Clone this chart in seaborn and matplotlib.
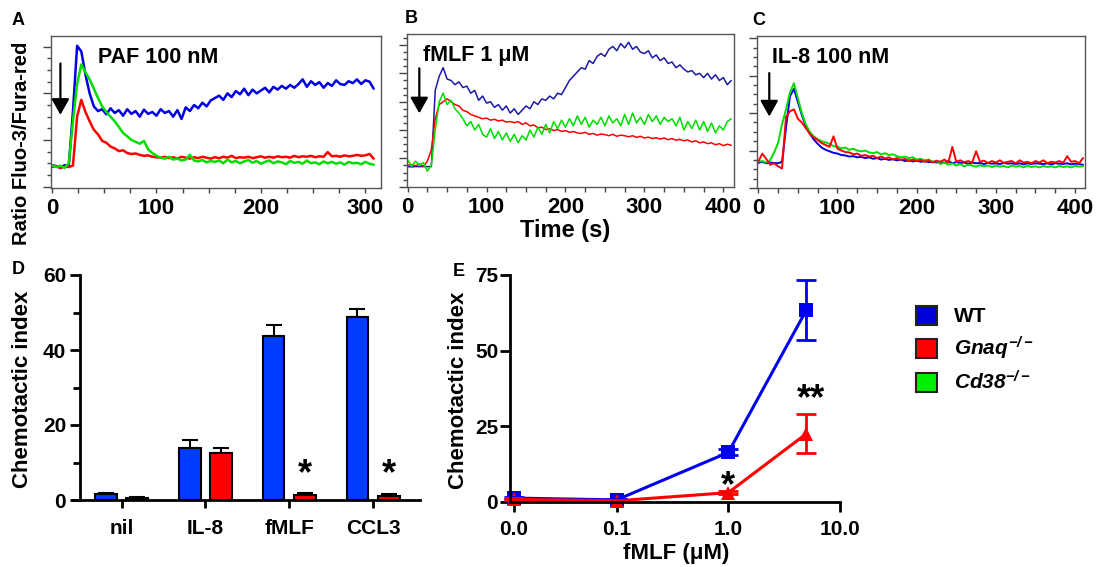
import numpy as np
import pandas as pd
import seaborn as sns
import matplotlib
matplotlib.use('Agg')
import matplotlib.pyplot as plt
from matplotlib.patches import Patch
from matplotlib.ticker import MultipleLocator, NullLocator


# ---- panel A: PAF 100 nM, sampled every 4 s ----
paf_step = 4
paf_wt = [0.46, 0.44, 0.40, 0.46, 0.44,
          1.60, 3.02, 2.90, 2.40, 2.00, 1.72, 1.62,
          1.66, 1.55, 1.68, 1.58, 1.64, 1.52, 1.66, 1.56, 1.62, 1.50, 1.65, 1.56, 1.60,
          1.52, 1.66, 1.58, 1.62, 1.50, 1.64, 1.45, 1.70, 1.62, 1.75, 1.68, 1.80, 1.72,
          1.85, 1.90, 1.95, 1.86, 2.00, 1.92, 2.05, 1.98, 2.10, 1.96, 2.08, 2.00, 2.06,
          2.12, 2.02, 2.14, 2.08, 2.16, 2.10, 2.18, 2.12, 2.20, 2.30, 2.14, 2.26, 2.18,
          2.24, 2.12, 2.22, 2.16, 2.28, 2.20, 2.18, 2.26, 2.22, 2.30, 2.20, 2.28, 2.25, 2.10]
paf_gnaq = [0.42, 0.44, 0.40, 0.43, 0.42, 0.45,
            1.50, 1.86, 1.60, 1.40, 1.22, 1.12, 0.98, 0.94, 0.86, 0.82, 0.76, 0.78, 0.72,
            0.70, 0.71, 0.68, 0.66, 0.67, 0.64, 0.63,
            0.62, 0.64, 0.61, 0.63, 0.60, 0.64, 0.62, 0.60, 0.63, 0.61, 0.64, 0.62, 0.60,
            0.63, 0.61, 0.64, 0.62, 0.66, 0.61, 0.63, 0.62, 0.64, 0.61, 0.63, 0.65, 0.62,
            0.64, 0.62, 0.65, 0.63, 0.64, 0.62, 0.66, 0.63, 0.65, 0.64, 0.66, 0.63, 0.65,
            0.64, 0.74, 0.65, 0.66, 0.64, 0.67, 0.65, 0.66, 0.68, 0.66, 0.67, 0.70, 0.60]
paf_cd38 = [0.46, 0.42, 0.45, 0.40, 0.50,
            1.40, 2.20, 2.62, 2.45, 2.30, 2.10, 1.90, 1.72, 1.60, 1.50, 1.40, 1.28, 1.15,
            1.08, 1.00, 0.96, 0.92, 0.98, 0.80, 0.72, 0.66,
            0.62, 0.60, 0.64, 0.58, 0.60, 0.56, 0.58, 0.68, 0.56, 0.54, 0.57, 0.52, 0.55,
            0.53, 0.56, 0.50, 0.58, 0.52, 0.55, 0.50, 0.54, 0.57, 0.51, 0.55, 0.49, 0.53,
            0.56, 0.50, 0.54, 0.52, 0.48, 0.55, 0.51, 0.53, 0.49, 0.56, 0.50, 0.52, 0.48,
            0.54, 0.50, 0.53, 0.49, 0.52, 0.47, 0.53, 0.50, 0.51, 0.48, 0.53, 0.49, 0.47]

# ---- panel B: fMLF 1 uM, sampled every 5 s ----
fmlf_step = 5
fmlf_wt = [0.71, 0.70, 0.71, 0.71, 0.71, 0.71, 0.71,
           3.40, 3.90, 4.20, 3.80, 3.75, 3.60, 3.70, 3.50, 3.55, 3.30, 3.40, 3.05, 3.20,
           2.95, 3.00, 2.80, 2.90, 2.70, 2.85, 2.60, 2.75, 2.55, 2.70, 2.85, 2.75, 3.00,
           2.90, 3.10, 3.05, 3.20, 3.10, 3.30, 3.25, 3.50, 3.75, 3.90, 4.05, 4.20, 4.15,
           4.45, 4.35, 4.60, 4.70, 4.60, 4.85, 4.95, 4.80, 5.05, 4.90, 5.10, 4.85, 4.95,
           4.75, 4.70, 4.80, 4.55, 4.65, 4.45, 4.55, 4.35, 4.40, 4.20, 4.30, 4.15, 4.05,
           4.10, 3.95, 4.00, 3.85, 4.00, 3.80, 3.95, 3.75, 3.85, 3.60, 3.75]
fmlf_gnaq = [0.76, 0.78, 0.74, 0.80, 0.72, 0.90, 1.30,
             2.40, 2.90, 3.00, 3.10, 3.00, 2.90, 2.85, 2.70, 2.65, 2.55, 2.50, 2.45, 2.40,
             2.42, 2.35, 2.38, 2.32, 2.35, 2.28, 2.30, 2.26, 2.30, 2.20, 2.25, 2.15, 2.18,
             2.08, 2.10, 2.02, 2.05, 1.98, 2.02, 1.95, 1.98, 1.92, 1.95, 1.90, 1.88, 1.92,
             1.85, 1.88, 1.82, 1.86, 1.84, 1.80, 1.85, 1.78, 1.82, 1.80, 1.76, 1.80, 1.74,
             1.78, 1.72, 1.75, 1.70, 1.73, 1.68, 1.72, 1.66, 1.70, 1.64, 1.67, 1.62, 1.65,
             1.58, 1.62, 1.55, 1.58, 1.52, 1.55, 1.48, 1.52, 1.45, 1.50, 1.46]
fmlf_cd38 = [0.95, 0.72, 0.90, 0.76, 0.85, 0.55, 0.75,
             2.00, 3.00, 3.30, 2.90, 3.05, 2.75, 2.60, 2.40, 2.15, 2.30, 2.00, 2.20, 1.85,
             1.75, 2.05, 1.70, 1.95, 1.65, 1.90, 1.60, 1.85, 1.55, 1.80, 1.65, 2.00, 1.75,
             2.10, 1.85, 2.20, 1.90, 2.30, 2.05, 2.35, 2.10, 2.40, 2.15, 2.50, 2.20, 2.45,
             2.10, 2.35, 2.20, 2.45, 2.15, 2.50, 2.25, 2.40, 2.15, 2.55, 2.20, 2.60, 2.25,
             2.45, 2.20, 2.55, 2.30, 2.50, 2.20, 2.45, 2.30, 2.40, 2.15, 2.45, 2.00, 2.30,
             2.05, 2.35, 2.00, 2.30, 1.95, 2.25, 1.90, 2.15, 2.00, 2.30, 2.40]

# ---- panel C: IL-8 100 nM, sampled every 5 s ----
il8_step = 5
il8_wt = [0.67, 0.70, 0.66, 0.68, 0.67, 0.66, 0.70,
          1.60, 2.45, 2.65, 2.30, 1.95, 1.65, 1.45, 1.30, 1.18, 1.08, 1.02, 0.98, 0.94,
          0.92, 0.88, 0.87, 0.84, 0.85, 0.82, 0.83, 0.80, 0.82, 0.78, 0.80, 0.76, 0.78,
          0.75, 0.77, 0.74, 0.76, 0.72, 0.74, 0.71, 0.73, 0.70, 0.72, 0.69, 0.70, 0.68,
          0.70, 0.67, 0.72, 0.66, 0.69, 0.67, 0.68, 0.65, 0.68, 0.66, 0.67, 0.64, 0.67,
          0.65, 0.66, 0.64, 0.67, 0.65, 0.66, 0.64, 0.66, 0.63, 0.66, 0.64, 0.66, 0.65,
          0.64, 0.66, 0.63, 0.66, 0.65, 0.64, 0.66, 0.63, 0.65, 0.64, 0.62]
il8_gnaq = [0.70, 0.92, 0.78, 0.62, 0.66, 0.58, 0.52,
            1.90, 2.05, 2.10, 1.85, 1.75, 1.60, 1.45, 1.35, 1.28, 1.20, 1.15, 1.10, 1.38,
            1.05, 1.00, 0.96, 0.95, 0.90, 0.92, 0.86, 0.88, 0.84, 0.86, 0.80, 0.84, 0.79,
            0.82, 0.76, 0.80, 0.75, 0.78, 0.72, 0.76, 0.72, 0.75, 0.70, 0.74, 0.68, 0.73,
            0.70, 0.76, 0.68, 1.10, 0.70, 0.74, 0.69, 0.72, 0.68, 0.98, 0.70, 0.73, 0.67,
            0.72, 0.68, 0.74, 0.67, 0.70, 0.72, 0.66, 0.74, 0.68, 0.70, 0.66, 0.72, 0.68,
            0.74, 0.66, 0.70, 0.68, 0.72, 0.67, 0.85, 0.70, 0.72, 0.66, 0.80]
il8_cd38 = [0.70, 0.72, 0.68, 0.74, 0.95, 1.20, 1.70,
            2.10, 2.55, 2.80, 2.40, 2.00, 1.70, 1.50, 1.38, 1.30, 1.25, 1.22, 1.18, 1.12,
            1.10, 1.06, 1.08, 1.02, 1.05, 1.00, 0.98, 1.00, 0.95, 0.93, 0.96, 0.90, 0.93,
            0.88, 0.90, 0.85, 0.82, 0.84, 0.80, 0.82, 0.76, 0.78, 0.74, 0.76, 0.70, 0.72,
            0.64, 0.68, 0.62, 0.66, 0.60, 0.64, 0.58, 0.62, 0.60, 0.57, 0.61, 0.58, 0.60,
            0.56, 0.60, 0.57, 0.59, 0.55, 0.60, 0.57, 0.59, 0.55, 0.60, 0.56, 0.58, 0.55,
            0.59, 0.56, 0.58, 0.55, 0.59, 0.56, 0.58, 0.55, 0.59, 0.57, 0.58]

# ---- panel D: chemotaxis bars ----
stimuli = ['nil', 'IL-8', 'fMLF', 'CCL3']
wt_ci = [1.5, 13.8, 43.7, 48.9]
wt_ci_err = [0.5, 2.3, 3.1, 2.1]
gnaq_ci = [0.5, 12.5, 1.4, 1.2]
gnaq_ci_err = [0.2, 1.5, 0.6, 0.5]

# ---- panel E: fMLF dose response ----
doses = [0.012, 0.1, 1.0, 5.0]
dose_ticks = [0.012, 0.1, 1.0, 10.0]
dose_labels = ['0.0', '0.1', '1.0', '10.0']
wt_dose = [1.2, 0.6, 16.3, 63.4]
wt_dose_err = [0.4, 0.3, 1.0, 10.0]
gnaq_dose = [0.8, 0.3, 3.0, 22.5]
gnaq_dose_err = [0.3, 0.2, 0.5, 6.5]

trace_pal = {'WT': '#0000e0', 'Gnaq': '#ff0000', 'Cd38': '#00dd00'}
bar_pal = {'WT': '#003cff', 'Gnaq': '#ff0000'}

sns.set_theme(style='ticks')
plt.rcParams['font.family'] = ['Liberation Sans', 'DejaVu Sans']
plt.rcParams['font.weight'] = 'bold'
plt.rcParams['axes.labelweight'] = 'bold'
plt.rcParams['text.color'] = 'black'
plt.rcParams['axes.labelcolor'] = 'black'
plt.rcParams['xtick.color'] = 'black'
plt.rcParams['ytick.color'] = 'black'
# math text is only used for the italic genotype names in the legend
plt.rcParams['mathtext.fontset'] = 'custom'
plt.rcParams['mathtext.it'] = 'Liberation Sans:italic:bold'
plt.rcParams['mathtext.rm'] = 'Liberation Sans:italic:bold'
plt.rcParams['mathtext.default'] = 'it'

W, H = 1103, 567
fig = plt.figure(figsize=(W / 100, H / 100), dpi=100)


def px_axes(x0, y0, x1, y1):
    return fig.add_axes([x0 / W, 1 - y1 / H, (x1 - x0) / W, (y1 - y0) / H])


def trace_panel(ax, step, traces, order, xlim, ylim, lw, text, text_xy, arrow_x, arrow_y, xmax):
    frames = [pd.DataFrame({'t': np.arange(len(traces[g])) * step,
                            'ratio': traces[g], 'genotype': g}) for g in order]
    df = pd.concat(frames, ignore_index=True)
    sns.lineplot(data=df, x='t', y='ratio', hue='genotype', hue_order=order,
                 palette=trace_pal, estimator=None, lw=lw, legend=False, ax=ax)
    ax.set_xlim(*xlim)
    ax.set_ylim(*ylim)
    ax.set_xlabel('')
    ax.set_ylabel('')
    ax.set_xticks(np.arange(0, xmax + 1, 100))
    ax.xaxis.set_minor_locator(MultipleLocator(25))
    ax.yaxis.set_major_locator(MultipleLocator(1))
    ax.yaxis.set_minor_locator(MultipleLocator(0.25))
    ax.tick_params(axis='y', which='both', labelleft=False, color='#444', width=1)
    ax.tick_params(axis='y', which='major', length=6)
    ax.tick_params(axis='y', which='minor', length=3)
    ax.tick_params(axis='x', which='both', color='#444', width=1, length=3.5,
                   labelsize=16, pad=4)
    for lab in ax.get_xticklabels():
        lab.set_fontweight('bold')
    for s in ax.spines.values():
        s.set_visible(True)
        s.set_color('#555')
        s.set_linewidth(1)
    ax.text(text_xy[0], text_xy[1], text, fontsize=15.5, fontweight='bold', va='baseline')
    ax.annotate('', xy=(arrow_x, arrow_y[1]), xytext=(arrow_x, arrow_y[0]),
                arrowprops=dict(arrowstyle='-|>,head_length=0.8,head_width=0.45',
                                color='black', lw=1.6, mutation_scale=12,
                                shrinkA=0, shrinkB=0))


axA = px_axes(51, 36, 381, 188)
trace_panel(axA, paf_step, {'WT': paf_wt, 'Gnaq': paf_gnaq, 'Cd38': paf_cd38},
            ['WT', 'Gnaq', 'Cd38'], (-1, 315), (-0.03, 3.23), 1.8,
            'PAF 100 nM', (44, 2.65), 8, (2.64, 1.54), 300)

axB = px_axes(407, 34, 734, 187)
trace_panel(axB, fmlf_step, {'WT': fmlf_wt, 'Gnaq': fmlf_gnaq, 'Cd38': fmlf_cd38},
            ['WT', 'Gnaq', 'Cd38'], (-0.8, 413.5), (-0.01, 5.39), 1.1,
            'fMLF 1 \u03bcM', (20, 4.42), 14.8, (4.18, 2.59), 400)
axB.lines[0].set_color('#1a1aa8')

axC = px_axes(757, 36, 1085, 188)
trace_panel(axC, il8_step, {'WT': il8_wt, 'Gnaq': il8_gnaq, 'Cd38': il8_cd38},
            ['WT', 'Cd38', 'Gnaq'], (-1.6, 412.5), (0, 4.06), 1.4,
            'IL-8 100 nM', (17, 3.35), 13.9, (3.07, 1.91), 400)

fig.text(22 / W, 1 - 143 / H, 'Ratio Fluo-3/Fura-red', rotation=90,
         ha='center', va='center', fontsize=14.5, fontweight='bold')
fig.text(565 / W, 1 - 231 / H, 'Time (s)', ha='center', va='center',
         fontsize=17, fontweight='bold')

# ---- D ----
axD = px_axes(73, 275, 420, 500)
dfD = pd.DataFrame({'stim': stimuli * 2,
                    'ci': wt_ci + gnaq_ci,
                    'genotype': ['WT'] * 4 + ['Gnaq'] * 4})
sns.barplot(data=dfD, x='stim', y='ci', hue='genotype', order=stimuli,
            hue_order=['WT', 'Gnaq'], palette=bar_pal, saturation=1, width=0.75,
            gap=0.31, edgecolor='black', linewidth=1.5, errorbar=None, legend=False,
            ax=axD)
bars = sorted(axD.patches, key=lambda p: p.get_x())
errs = [e for pair in zip(wt_ci_err, gnaq_ci_err) for e in pair]
cx = [b.get_x() + b.get_width() / 2 for b in bars]
hy = [b.get_height() for b in bars]
axD.errorbar(cx, hy, yerr=[[0] * len(errs), errs], fmt='none', ecolor='black',
             elinewidth=1.5, capsize=6, capthick=1.5, zorder=1)
for i in (2, 3):
    axD.text(i + 0.1875, 4.2, '*', ha='center', va='baseline', fontsize=26,
             fontweight='bold')
axD.set_xlim(-0.58, 3.56)
axD.set_ylim(0, 60)
axD.set_xlabel('')
axD.set_ylabel('')
axD.yaxis.set_major_locator(MultipleLocator(20))
axD.yaxis.set_minor_locator(MultipleLocator(10))
sns.despine(ax=axD)
axD.spines['left'].set_position(('axes', 7 / 347))
for s in ('left', 'bottom'):
    axD.spines[s].set_linewidth(2)
    axD.spines[s].set_color('black')
axD.tick_params(which='both', width=2, color='black', labelsize=15)
axD.tick_params(axis='y', which='major', length=7, pad=3)
axD.tick_params(axis='y', which='minor', length=5)
axD.tick_params(axis='x', length=6, pad=8)
for lab in axD.get_xticklabels() + axD.get_yticklabels():
    lab.set_fontweight('bold')
fig.text(23 / W, 1 - 389 / H, 'Chemotactic index', rotation=90, ha='center',
         va='center', fontsize=16, fontweight='bold')

# ---- E ----
axE = px_axes(510, 275, 840, 501.7)
axE.set_xscale('log')
dfE = pd.DataFrame({'dose': doses * 2,
                    'ci': wt_dose + gnaq_dose,
                    'genotype': ['WT'] * 4 + ['Gnaq'] * 4})
sns.lineplot(data=dfE, x='dose', y='ci', hue='genotype', style='genotype',
             hue_order=['WT', 'Gnaq'], palette={'WT': '#0000ee', 'Gnaq': '#ff0000'},
             markers={'WT': 's', 'Gnaq': '^'}, dashes=False, markersize=10,
             markeredgewidth=0, lw=2.2, errorbar=None, legend=False,
             clip_on=False, ax=axE)
axE.errorbar(doses, wt_dose, yerr=wt_dose_err, fmt='none', ecolor='#0000ee',
             elinewidth=2, capsize=7, capthick=2, clip_on=False)
axE.errorbar(doses, gnaq_dose, yerr=gnaq_dose_err, fmt='none', ecolor='#ff0000',
             elinewidth=2, capsize=7, capthick=2, clip_on=False)
axE.text(1.0, 1.8, '*', ha='center', va='baseline', fontsize=26, fontweight='bold')
axE.text(5.47, 30.5, '**', ha='center', va='baseline', fontsize=26, fontweight='bold')
axE.set_xlim(0.0111, 10)
axE.set_ylim(0, 75)
axE.set_xticks(dose_ticks)
axE.set_xticklabels(dose_labels)
axE.xaxis.set_minor_locator(NullLocator())
axE.yaxis.set_major_locator(MultipleLocator(25))
axE.set_xlabel('')
axE.set_ylabel('')
sns.despine(ax=axE)
for s in ('left', 'bottom'):
    axE.spines[s].set_linewidth(2)
    axE.spines[s].set_color('black')
axE.tick_params(which='both', width=2, color='black', labelsize=15, length=7)
axE.tick_params(axis='y', pad=1.5)
axE.tick_params(axis='x', pad=6)
for lab in axE.get_xticklabels() + axE.get_yticklabels():
    lab.set_fontweight('bold')
fig.text(459 / W, 1 - 390 / H, 'Chemotactic index', rotation=90, ha='center',
         va='center', fontsize=16, fontweight='bold')
fig.text(676 / W, 1 - 553 / H, 'fMLF (\u03bcM)', ha='center', va='center',
         fontsize=16, fontweight='bold')

# ---- legend ----
handles = [Patch(facecolor='#0000dd', edgecolor='#222', lw=1.5, label='WT'),
           Patch(facecolor='#ff0000', edgecolor='#222', lw=1.5, label=r'$Gnaq^{-/-}$'),
           Patch(facecolor='#00ee00', edgecolor='#222', lw=1.5, label=r'$Cd38^{-/-}$')]
fig.legend(handles=handles, loc='upper left', bbox_to_anchor=(916 / W, 1 - 306 / H),
           frameon=False, prop={'weight': 'bold', 'size': 15}, handlelength=1.0,
           handleheight=1.0, handletextpad=0.8, labelspacing=0.4,
           borderpad=0, borderaxespad=0)

# ---- panel letters ----
for letter, x, y in [('A', 12, 12), ('B', 405, 10), ('C', 752, 12),
                     ('D', 12, 261), ('E', 453, 263)]:
    fig.text(x / W, 1 - y / H, letter, ha='left', va='top', fontsize=13,
             fontweight='bold')

fig.savefig('out.png', dpi=100)
